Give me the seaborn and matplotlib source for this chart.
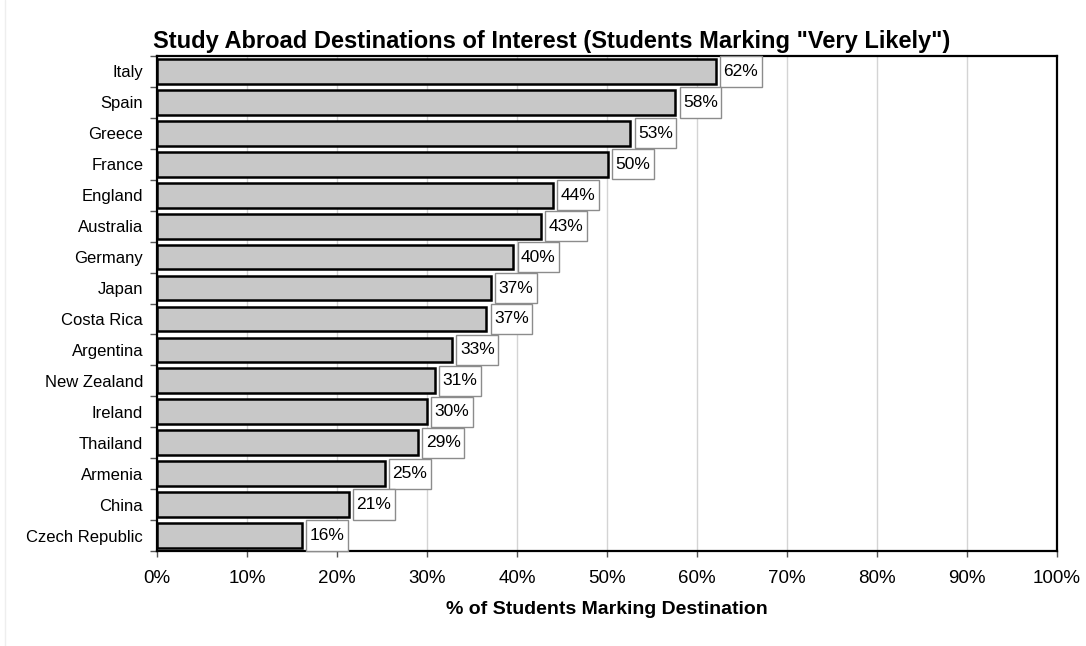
import numpy as np
import pandas as pd
import matplotlib
matplotlib.use("Agg")
import matplotlib.pyplot as plt
import seaborn as sns
from matplotlib.lines import Line2D
from matplotlib.path import Path
from matplotlib.ticker import FixedLocator, PercentFormatter

countries = ["Italy", "Spain", "Greece", "France", "England", "Australia",
             "Germany", "Japan", "Costa Rica", "Argentina", "New Zealand",
             "Ireland", "Thailand", "Armenia", "China", "Czech Republic"]
shares = [62.1, 57.6, 52.6, 50.1, 44.0, 42.7, 39.6, 37.1, 36.6, 32.8,
          30.9, 30.0, 29.0, 25.3, 21.3, 16.1]

df = pd.DataFrame({"country": countries, "share": shares})

sns.set_theme(style="white")
plt.rcParams["font.family"] = ["Liberation Sans", "DejaVu Sans"]


def label_box(x0, y0, width, height, mutation_size):
    """Rectangle around a value label, snug at the sides, taller above/below."""
    px = 0.2 * mutation_size
    py = 0.44 * mutation_size
    x1, y1 = x0 - px, y0 - py
    x2, y2 = x0 + width + px, y0 + height + py
    return Path([(x1, y1), (x2, y1), (x2, y2), (x1, y2), (x1, y1)],
                closed=True)


fig = plt.figure(figsize=(10.86, 6.46), dpi=100)
ax = fig.add_axes([0.1446, 0.147, 0.8287, 0.7663])

sns.barplot(data=df, y="country", x="share", orient="h", ax=ax,
            color="#c8c8c8", saturation=1, width=0.8,
            edgecolor="black", linewidth=1.8, zorder=3)

ax.set_xlim(0, 100)
ax.set_ylim(len(countries) - 0.5, -0.5)
ax.xaxis.set_major_locator(FixedLocator(np.arange(0, 101, 10)))
ax.xaxis.set_major_formatter(PercentFormatter(decimals=0))
ax.grid(axis="x", color="#d4d4d4", linewidth=1, zorder=0)
ax.grid(axis="y", visible=False)
ax.set_axisbelow(True)

for s in ax.spines.values():
    s.set_visible(True)
    s.set_color("black")
    s.set_linewidth(1.6)

ax.tick_params(axis="x", which="major", bottom=True, length=4, width=1,
               color="#555555", labelsize=13.5, pad=10, labelcolor="black")
ax.tick_params(axis="y", which="major", left=False, length=0,
               labelsize=12, pad=10, labelcolor="black")
ax.set_yticks(np.arange(-0.5, len(countries), 1), minor=True)
ax.tick_params(axis="y", which="minor", left=True, length=5, width=1,
               color="#555555")

for i, v in enumerate(shares):
    ax.text(v + 0.85, i, f"{v:.0f}%", va="center", ha="left", fontsize=12.5,
            color="black", zorder=4,
            bbox=dict(boxstyle=label_box, facecolor="white",
                      edgecolor="#8c8c8c", linewidth=1))

ax.set_ylabel("")
ax.set_xlabel("% of Students Marking Destination", fontsize=14,
              fontweight="bold", labelpad=10, color="black")
fig.text(0.508, 0.936,
         'Study Abroad Destinations of Interest (Students Marking "Very Likely")',
         ha="center", va="center", fontsize=17, fontweight="bold",
         color="black")

# faint page edge on the left
fig.add_artist(Line2D([5 / 1086, 5 / 1086], [0, 1], color="#eeeeee",
                      linewidth=1, transform=fig.transFigure))

fig.savefig("out.png", dpi=100)
